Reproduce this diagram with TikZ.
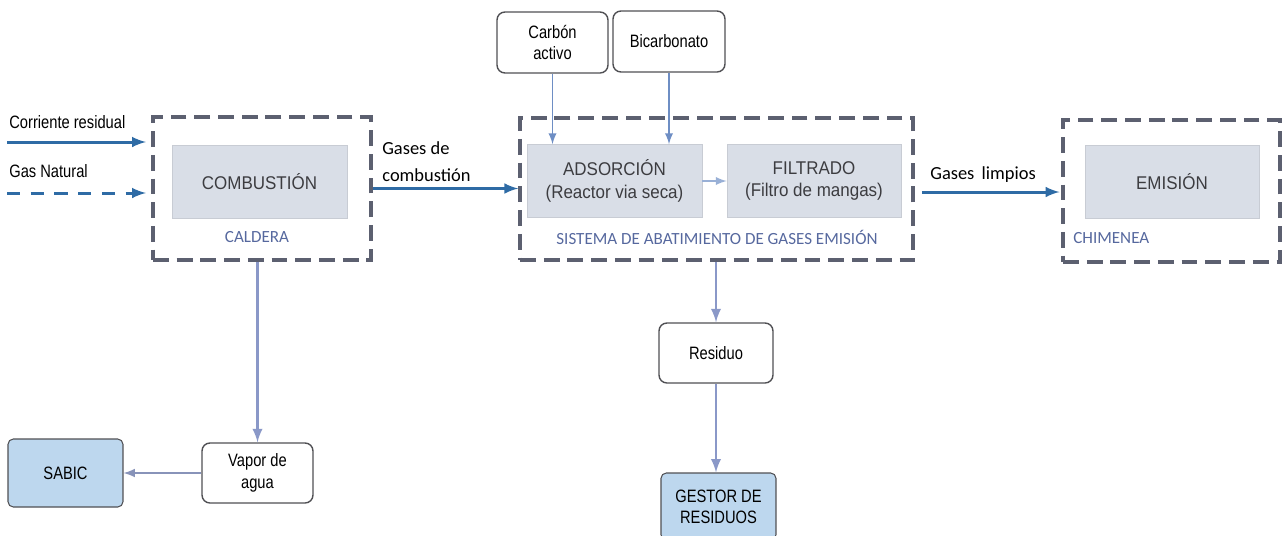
\documentclass[tikz,border=0pt]{standalone}
\usepackage{fontspec}
\setmainfont{Liberation Sans}
\newfontfamily\unitfont{Liberation Sans}[FakeStretch=0.92]
\newfontfamily\narrowfont{Liberation Sans}[FakeStretch=0.82]
\newfontfamily\tagfont{Carlito}
\definecolor{framegrey}{RGB}{92,96,112}
\definecolor{flowblue}{RGB}{46,107,165}
\definecolor{linkblue}{RGB}{138,152,200}
\definecolor{feedblue}{RGB}{110,142,196}
\definecolor{unitfill}{RGB}{217,222,231}
\definecolor{unitdraw}{RGB}{200,204,212}
\definecolor{unittext}{RGB}{60,60,64}
\definecolor{tagblue}{RGB}{86,104,158}
\definecolor{sinkfill}{RGB}{189,215,238}
\definecolor{feeddraw}{RGB}{80,80,84}
\usetikzlibrary{positioning}

\begin{document}
\begin{tikzpicture}[x=0.02cm,y=-0.02cm,>=latex,
    frame/.style={draw=framegrey,line width=2pt,dash pattern=on 9pt off 4.5pt,minimum width=4.36cm,minimum height=2.86cm},
    unit/.style={draw=unitdraw,fill=unitfill,minimum width=3.5cm,minimum height=1.46cm,align=center,text=unittext,font=\unitfont\fontsize{10.5}{13}\selectfont},
    feed/.style={draw=feeddraw,line width=0.8pt,rounded corners=4.5pt,fill=white,minimum width=2.22cm,minimum height=1.22cm,align=center,font=\narrowfont\fontsize{10.2}{12.5}\selectfont},
    sink/.style={draw=feeddraw,line width=0.6pt,rounded corners=3pt,fill=sinkfill,minimum width=2.3cm,minimum height=1.36cm,align=center,font=\narrowfont\fontsize{10.2}{12}\selectfont},
    tag/.style={inner sep=0pt,text=tagblue,font=\tagfont\fontsize{9.7}{12}\selectfont},
    flowtxt/.style={inner sep=0pt,align=left,font=\tagfont\fontsize{10.5}{15.3}\selectfont},
    intxt/.style={inner sep=0pt,font=\narrowfont\fontsize{10.2}{12}\selectfont},
    flow/.style={->,draw=flowblue,line width=1.7pt},
    link/.style={->,draw=linkblue,line width=1.6pt},
    feedline/.style={->,draw=feedblue,line width=1.1pt}]
    \useasboundingbox (0,0) rectangle (1282,535);
    % dashed frames
    \node[frame] (caldera) at (262,188.5) {};
    \node[frame,minimum width=7.86cm,minimum height=2.84cm] (abat) at (716.5,189) {};
    \node[frame,minimum width=4.34cm,minimum height=2.84cm] (chim) at (1171.5,191) {};
    % process units
    \node[unit] (comb) at (259.5,181.5) {COMBUSTIÓN};
    \node[unit] (ads) at (614.5,181) {ADSORCIÓN\\(Reactor via seca)};
    \node[unit,minimum width=3.48cm] (filt) at (814,181) {FILTRADO\\(Filtro de mangas)};
    \node[unit,minimum width=3.48cm] (emis) at (1172,182) {EMISIÓN};
    % frame labels
    \node[tag] (caldtag) at (257,237) {CALDERA};
    \node[tag] (abattag) at (717,237) {SISTEMA DE ABATIMIENTO DE GASES EMISIÓN};
    \node[tag,anchor=west] (chimtag) at (1073,238) {CHIMENEA};
    % feeds and products
    \node[feed,minimum width=2.22cm] (carbon) at (552.5,42.5) {Carbón\\activo};
    \node[feed,minimum width=2.24cm] (bicarb) at (669,41.5) {Bicarbonato};
    \node[feed,minimum height=1.2cm] (vapor) at (257.5,473) {Vapor de\\agua};
    \node[feed,minimum width=2.28cm,minimum height=1.2cm] (residuo) at (716,353) {Residuo};
    \node[sink] (sabic) at (65.5,473) {SABIC};
    \node[sink,minimum height=1.34cm] (gestor) at (718.5,506.5) {GESTOR DE\\RESIDUOS};
    % inlet streams
    \node[intxt,anchor=west] (crtxt) at (9,122) {Corriente residual};
    \node[intxt,anchor=west] (gntxt) at (9,171) {Gas Natural};
    \coordinate (cr) at (7,142);
    \coordinate (gn) at (7,193);
    \draw[flow,shorten >=3pt] (cr) -- (cr -| caldera.west);
    \draw[flow,dash pattern=on 7.5pt off 6pt,shorten >=3pt] (gn) -- (gn -| caldera.west);
    % gas line
    \node[flowtxt,anchor=west] (gctxt) at (382,161.5) {Gases de\\combustión};
    \node[flowtxt,anchor=west] (gltxt) at (930,175) {Gases\, limpios};
    \draw[flow] (caldera.east) -- (caldera.east -| abat.west);
    \draw[flow,shorten <=4pt,shorten >=1pt] (abat.east |- 0,192) -- (chim.west |- 0,192);
    \draw[->,draw=feedblue!70,line width=1.1pt] (ads) -- (filt);
    % reagents
    \draw[feedline] (carbon.south) -- (carbon.south |- ads.north);
    \draw[feedline] (bicarb.south) -- (bicarb.south |- ads.north);
    % outlets
    \draw[link] (vapor.north |- caldera.south) -- (vapor.north);
    \draw[->,draw=linkblue!80!gray,line width=1.2pt] (vapor.west) -- (sabic.east);
    \draw[link] (residuo.north |- abat.south) -- (residuo.north);
    \draw[link] (residuo.south) -- (residuo.south |- gestor.north);
\end{tikzpicture}
\end{document}
